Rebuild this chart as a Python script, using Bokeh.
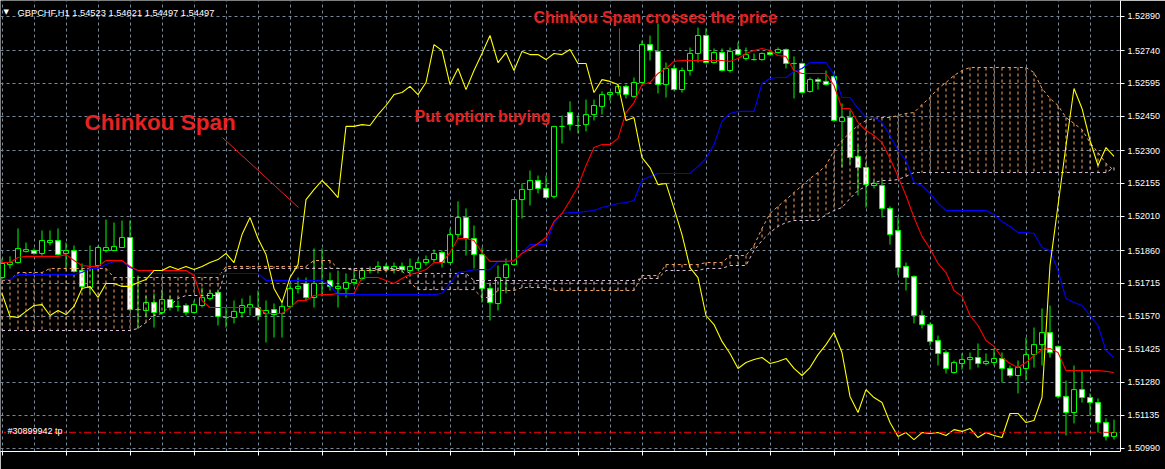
from bokeh.plotting import figure
from bokeh.models import Range1d, FixedTicker, Label, PrintfTickFormatter, ColumnDataSource
from bokeh.embed import file_html
from bokeh.resources import INLINE

# ---------------- data (GBPCHF H1, bars from 27 Aug 2014 01:00) ----------------
opens = [1.51741, 1.51798, 1.51807, 1.51856, 1.51860, 1.51847, 1.51895, 1.51904, 1.51847, 1.51860,
         1.51772, 1.51697, 1.51794, 1.51860, 1.51860, 1.51873, 1.51917, 1.51600, 1.51596, 1.51631,
         1.51587, 1.51644, 1.51614, 1.51618, 1.51587, 1.51618, 1.51649, 1.51675, 1.51565, 1.51565,
         1.51587, 1.51609, 1.51609, 1.51583, 1.51600, 1.51583, 1.51614, 1.51693, 1.51715, 1.51653,
         1.51715, 1.51728, 1.51693, 1.51693, 1.51719, 1.51737, 1.51772, 1.51776, 1.51790, 1.51776,
         1.51790, 1.51772, 1.51781, 1.51807, 1.51820, 1.51851, 1.51807, 1.51930, 1.52005, 1.51913,
         1.51842, 1.51693, 1.51627, 1.51741, 1.51798, 1.52084, 1.52128, 1.52168, 1.52133, 1.52098,
         1.52406, 1.52467, 1.52410, 1.52414, 1.52458, 1.52494, 1.52546, 1.52555, 1.52582, 1.52538,
         1.52599, 1.52766, 1.52736, 1.52590, 1.52661, 1.52568, 1.52652, 1.52727, 1.52806, 1.52687,
         1.52731, 1.52652, 1.52744, 1.52705, 1.52700, 1.52700, 1.52731, 1.52731, 1.52744, 1.52683,
         1.52683, 1.52560, 1.52612, 1.52604, 1.52626, 1.52428, 1.52445, 1.52274, 1.52225, 1.52146,
         1.52146, 1.52045, 1.51948, 1.51790, 1.51746, 1.51574, 1.51534, 1.51464, 1.51411, 1.51323,
         1.51363, 1.51380, 1.51389, 1.51363, 1.51367, 1.51385, 1.51341, 1.51310, 1.51341, 1.51402,
         1.51446, 1.51499, 1.51438, 1.51218, 1.51147, 1.51248, 1.51213, 1.51191, 1.51103, 1.51042]
highs = [1.51825, 1.51834, 1.51957, 1.51895, 1.51869, 1.51948, 1.51948, 1.51957, 1.51895, 1.51882,
         1.51803, 1.51882, 1.51882, 1.51996, 1.51983, 1.51992, 1.51992, 1.51750, 1.51662, 1.51671,
         1.51684, 1.51662, 1.51640, 1.51627, 1.51640, 1.51697, 1.51684, 1.51684, 1.51609, 1.51640,
         1.51649, 1.51662, 1.51684, 1.51640, 1.51627, 1.51640, 1.51715, 1.51741, 1.51741, 1.51869,
         1.51869, 1.51763, 1.51772, 1.51759, 1.51772, 1.51785, 1.51790, 1.51812, 1.51803, 1.51807,
         1.51807, 1.51825, 1.51825, 1.51838, 1.51864, 1.51860, 1.51957, 1.52076, 1.52045, 1.51970,
         1.51873, 1.51715, 1.51794, 1.51825, 1.52084, 1.52155, 1.52212, 1.52190, 1.52190, 1.52406,
         1.52454, 1.52516, 1.52454, 1.52524, 1.52524, 1.52560, 1.52560, 1.52590, 1.52590, 1.52621,
         1.52784, 1.52806, 1.52859, 1.52687, 1.52674, 1.52665, 1.52753, 1.52841, 1.52837, 1.52749,
         1.52749, 1.52753, 1.52775, 1.52753, 1.52727, 1.52731, 1.52744, 1.52753, 1.52749, 1.52714,
         1.52687, 1.52621, 1.52621, 1.52652, 1.52643, 1.52507, 1.52476, 1.52322, 1.52243, 1.52168,
         1.52168, 1.52054, 1.52005, 1.51807, 1.51750, 1.51596, 1.51543, 1.51486, 1.51420, 1.51376,
         1.51407, 1.51411, 1.51451, 1.51407, 1.51429, 1.51411, 1.51354, 1.51376, 1.51477, 1.51521,
         1.51605, 1.51618, 1.51442, 1.51288, 1.51354, 1.51332, 1.51231, 1.51209, 1.51121, 1.51116]
lows = [1.51728, 1.51781, 1.51803, 1.51851, 1.51842, 1.51838, 1.51882, 1.51838, 1.51781, 1.51763,
        1.51684, 1.51671, 1.51781, 1.51851, 1.51860, 1.51873, 1.51596, 1.51517, 1.51565, 1.51521,
        1.51578, 1.51596, 1.51592, 1.51574, 1.51583, 1.51609, 1.51640, 1.51530, 1.51521, 1.51539,
        1.51565, 1.51574, 1.51552, 1.51455, 1.51477, 1.51477, 1.51605, 1.51671, 1.51640, 1.51609,
        1.51658, 1.51684, 1.51609, 1.51653, 1.51706, 1.51728, 1.51759, 1.51759, 1.51763, 1.51759,
        1.51763, 1.51759, 1.51772, 1.51794, 1.51807, 1.51785, 1.51807, 1.51913, 1.51838, 1.51781,
        1.51631, 1.51552, 1.51596, 1.51671, 1.51794, 1.52001, 1.52058, 1.52111, 1.52089, 1.52089,
        1.52331, 1.52388, 1.52375, 1.52384, 1.52432, 1.52458, 1.52520, 1.52542, 1.52529, 1.52533,
        1.52595, 1.52696, 1.52551, 1.52533, 1.52564, 1.52555, 1.52630, 1.52687, 1.52683, 1.52683,
        1.52648, 1.52643, 1.52718, 1.52696, 1.52696, 1.52696, 1.52718, 1.52727, 1.52661, 1.52529,
        1.52551, 1.52555, 1.52568, 1.52586, 1.52428, 1.52225, 1.52243, 1.52102, 1.52049, 1.52133,
        1.52005, 1.51886, 1.51750, 1.51684, 1.51539, 1.51517, 1.51442, 1.51354, 1.51319, 1.51319,
        1.51336, 1.51336, 1.51345, 1.51354, 1.51354, 1.51279, 1.51301, 1.51231, 1.51288, 1.51345,
        1.51354, 1.51389, 1.51209, 1.51046, 1.51099, 1.51191, 1.51134, 1.51059, 1.51024, 1.51028]
closes = [1.51803, 1.51807, 1.51869, 1.51864, 1.51847, 1.51904, 1.51904, 1.51842, 1.51860, 1.51768,
          1.51702, 1.51781, 1.51873, 1.51873, 1.51878, 1.51917, 1.51600, 1.51600, 1.51631, 1.51587,
          1.51644, 1.51609, 1.51614, 1.51587, 1.51622, 1.51653, 1.51671, 1.51570, 1.51565, 1.51592,
          1.51618, 1.51622, 1.51574, 1.51596, 1.51578, 1.51614, 1.51693, 1.51702, 1.51653, 1.51715,
          1.51715, 1.51702, 1.51702, 1.51719, 1.51732, 1.51772, 1.51772, 1.51790, 1.51776, 1.51790,
          1.51776, 1.51790, 1.51807, 1.51820, 1.51847, 1.51807, 1.51930, 1.52005, 1.51913, 1.51842,
          1.51693, 1.51631, 1.51741, 1.51798, 1.52084, 1.52128, 1.52168, 1.52133, 1.52093, 1.52406,
          1.52406, 1.52414, 1.52410, 1.52458, 1.52498, 1.52546, 1.52555, 1.52582, 1.52546, 1.52599,
          1.52766, 1.52740, 1.52590, 1.52661, 1.52568, 1.52652, 1.52727, 1.52806, 1.52687, 1.52731,
          1.52652, 1.52736, 1.52722, 1.52722, 1.52700, 1.52727, 1.52722, 1.52744, 1.52683, 1.52683,
          1.52555, 1.52612, 1.52604, 1.52590, 1.52432, 1.52445, 1.52269, 1.52225, 1.52150, 1.52155,
          1.52045, 1.51930, 1.51785, 1.51741, 1.51574, 1.51534, 1.51460, 1.51407, 1.51341, 1.51367,
          1.51380, 1.51389, 1.51363, 1.51372, 1.51385, 1.51341, 1.51310, 1.51345, 1.51402, 1.51446,
          1.51499, 1.51411, 1.51218, 1.51147, 1.51248, 1.51213, 1.51191, 1.51103, 1.51042, 1.51059]
# closes of the 26 bars after the last visible bar (they feed the Chinkou Span)
later_closes = [1.51028, 1.51059, 1.51055, 1.51059, 1.51046, 1.51072, 1.51064, 1.51077, 1.51037, 1.51059,
                1.51046, 1.51037, 1.51143, 1.51143, 1.51103, 1.51112, 1.51213, 1.51794, 1.52058, 1.52322,
                1.52573, 1.52485, 1.52344, 1.52234, 1.52313, 1.52274]

tenkan = [1.51807, 1.51807, 1.51829, 1.51834, 1.51834, 1.51834, 1.51834, 1.51834, 1.51842, 1.51816,
          1.51794, 1.51790, 1.51790, 1.51816, 1.51816, 1.51816, 1.51790, 1.51772, 1.51772, 1.51772,
          1.51772, 1.51772, 1.51772, 1.51772, 1.51750, 1.51640, 1.51609, 1.51609, 1.51609, 1.51609,
          1.51609, 1.51609, 1.51609, 1.51583, 1.51583, 1.51583, 1.51609, 1.51640, 1.51640, 1.51662,
          1.51666, 1.51666, 1.51671, 1.51671, 1.51671, 1.51741, 1.51741, 1.51741, 1.51728, 1.51715,
          1.51737, 1.51754, 1.51763, 1.51776, 1.51807, 1.51807, 1.51851, 1.51913, 1.51913, 1.51904,
          1.51851, 1.51812, 1.51812, 1.51812, 1.51816, 1.51847, 1.51869, 1.51891, 1.51917, 1.51988,
          1.52023, 1.52080, 1.52142, 1.52234, 1.52313, 1.52326, 1.52326, 1.52353, 1.52467, 1.52511,
          1.52590, 1.52599, 1.52639, 1.52661, 1.52692, 1.52696, 1.52696, 1.52696, 1.52696, 1.52696,
          1.52696, 1.52692, 1.52705, 1.52727, 1.52740, 1.52749, 1.52740, 1.52718, 1.52714, 1.52652,
          1.52639, 1.52639, 1.52639, 1.52639, 1.52586, 1.52485, 1.52485, 1.52423, 1.52388, 1.52366,
          1.52335, 1.52265, 1.52186, 1.52102, 1.52005, 1.51922, 1.51869, 1.51803, 1.51763, 1.51684,
          1.51658, 1.51574, 1.51530, 1.51464, 1.51438, 1.51389, 1.51363, 1.51345, 1.51367, 1.51398,
          1.51424, 1.51429, 1.51411, 1.51332, 1.51332, 1.51332, 1.51332, 1.51332, 1.51328, 1.51323]
kijun = [1.51732, 1.51732, 1.51754, 1.51754, 1.51754, 1.51754, 1.51754, 1.51754, 1.51754, 1.51754,
         1.51763, 1.51781, 1.51781, 1.51798, 1.51812, 1.51812, 1.51785, 1.51772, 1.51772, 1.51759,
         1.51759, 1.51759, 1.51759, 1.51759, 1.51759, 1.51759, 1.51759, 1.51759, 1.51759, 1.51759,
         1.51759, 1.51759, 1.51759, 1.51728, 1.51728, 1.51728, 1.51728, 1.51728, 1.51728, 1.51728,
         1.51728, 1.51706, 1.51666, 1.51666, 1.51666, 1.51666, 1.51666, 1.51666, 1.51666, 1.51666,
         1.51666, 1.51666, 1.51666, 1.51666, 1.51666, 1.51671, 1.51715, 1.51763, 1.51768, 1.51776,
         1.51776, 1.51776, 1.51812, 1.51812, 1.51812, 1.51851, 1.51886, 1.51886, 1.51886, 1.51983,
         1.52023, 1.52027, 1.52027, 1.52032, 1.52036, 1.52049, 1.52058, 1.52067, 1.52071, 1.52080,
         1.52168, 1.52186, 1.52199, 1.52199, 1.52199, 1.52199, 1.52199, 1.52230, 1.52265, 1.52326,
         1.52428, 1.52463, 1.52472, 1.52472, 1.52472, 1.52595, 1.52617, 1.52621, 1.52621, 1.52648,
         1.52661, 1.52687, 1.52687, 1.52687, 1.52634, 1.52533, 1.52533, 1.52485, 1.52445, 1.52445,
         1.52423, 1.52366, 1.52300, 1.52256, 1.52159, 1.52146, 1.52111, 1.52067, 1.52036, 1.52036,
         1.52036, 1.52036, 1.52036, 1.52036, 1.52018, 1.51988, 1.51966, 1.51939, 1.51939, 1.51935,
         1.51873, 1.51860, 1.51772, 1.51649, 1.51631, 1.51618, 1.51574, 1.51530, 1.51420, 1.51389]
senkou_a = [1.51728, 1.51728, 1.51763, 1.51763, 1.51763, 1.51763, 1.51781, 1.51781, 1.51781, 1.51781,
            1.51781, 1.51781, 1.51781, 1.51781, 1.51741, 1.51741, 1.51741, 1.51741, 1.51741, 1.51741,
            1.51741, 1.51741, 1.51741, 1.51741, 1.51741, 1.51741, 1.51741, 1.51741, 1.51790, 1.51790,
            1.51790, 1.51790, 1.51790, 1.51790, 1.51790, 1.51790, 1.51790, 1.51790, 1.51790, 1.51816,
            1.51816, 1.51816, 1.51781, 1.51781, 1.51772, 1.51772, 1.51772, 1.51772, 1.51772, 1.51772,
            1.51772, 1.51719, 1.51688, 1.51688, 1.51688, 1.51688, 1.51688, 1.51688, 1.51688, 1.51688,
            1.51653, 1.51653, 1.51684, 1.51684, 1.51684, 1.51697, 1.51697, 1.51697, 1.51697, 1.51684,
            1.51684, 1.51684, 1.51684, 1.51684, 1.51684, 1.51684, 1.51684, 1.51684, 1.51684, 1.51684,
            1.51750, 1.51750, 1.51750, 1.51798, 1.51798, 1.51798, 1.51798, 1.51798, 1.51807, 1.51807,
            1.51807, 1.51838, 1.51838, 1.51838, 1.51882, 1.51957, 1.52023, 1.52054, 1.52084, 1.52115,
            1.52146, 1.52177, 1.52203, 1.52234, 1.52300, 1.52344, 1.52379, 1.52410, 1.52432, 1.52441,
            1.52445, 1.52445, 1.52454, 1.52463, 1.52467, 1.52502, 1.52533, 1.52573, 1.52599, 1.52630,
            1.52652, 1.52665, 1.52665, 1.52665, 1.52665, 1.52665, 1.52665, 1.52665, 1.52665, 1.52643,
            1.52573, 1.52529, 1.52498, 1.52445, 1.52419, 1.52392, 1.52335, 1.52291, 1.52243, 1.52212]
senkou_b = [1.51508, 1.51508, 1.51508, 1.51508, 1.51508, 1.51508, 1.51508, 1.51508, 1.51508, 1.51508,
            1.51508, 1.51508, 1.51508, 1.51508, 1.51508, 1.51508, 1.51508, 1.51517, 1.51543, 1.51574,
            1.51583, 1.51618, 1.51649, 1.51662, 1.51662, 1.51662, 1.51662, 1.51662, 1.51781, 1.51781,
            1.51781, 1.51781, 1.51781, 1.51781, 1.51781, 1.51781, 1.51781, 1.51781, 1.51781, 1.51781,
            1.51781, 1.51781, 1.51781, 1.51781, 1.51781, 1.51781, 1.51781, 1.51781, 1.51781, 1.51781,
            1.51781, 1.51759, 1.51759, 1.51759, 1.51759, 1.51759, 1.51759, 1.51759, 1.51759, 1.51728,
            1.51728, 1.51728, 1.51728, 1.51728, 1.51728, 1.51728, 1.51728, 1.51728, 1.51728, 1.51728,
            1.51728, 1.51728, 1.51728, 1.51728, 1.51728, 1.51728, 1.51728, 1.51728, 1.51728, 1.51728,
            1.51737, 1.51737, 1.51737, 1.51772, 1.51772, 1.51772, 1.51772, 1.51772, 1.51781, 1.51781,
            1.51781, 1.51794, 1.51794, 1.51794, 1.51860, 1.51904, 1.51939, 1.51966, 1.51983, 1.51992,
            1.51992, 1.51992, 1.51992, 1.52018, 1.52036, 1.52049, 1.52089, 1.52124, 1.52142, 1.52159,
            1.52168, 1.52168, 1.52172, 1.52186, 1.52203, 1.52203, 1.52203, 1.52203, 1.52203, 1.52203,
            1.52203, 1.52203, 1.52203, 1.52203, 1.52203, 1.52203, 1.52203, 1.52203, 1.52203, 1.52203,
            1.52203, 1.52203, 1.52203, 1.52203, 1.52203, 1.52203, 1.52203, 1.52203, 1.52203, 1.52225]

price_ticks = [1.52890, 1.52740, 1.52595, 1.52450, 1.52300, 1.52155, 1.52010,
               1.51860, 1.51715, 1.51570, 1.51425, 1.51280, 1.51135, 1.50990]
time_ticks = [0, 8, 16, 24, 32, 40, 48, 56, 64, 72, 80, 88, 96, 104, 112, 120, 128, 136]
time_labels = ["27 Aug 2014", "27 Aug 09:00", "27 Aug 17:00", "28 Aug 01:00", "28 Aug 09:00",
               "28 Aug 17:00", "29 Aug 01:00", "29 Aug 09:00", "29 Aug 17:00", "1 Sep 01:00",
               "1 Sep 09:00", "1 Sep 17:00", "2 Sep 01:00", "2 Sep 09:00", "2 Sep 17:00",
               "3 Sep 01:00", "3 Sep 09:00", "3 Sep 17:00"]
take_profit = 1.51060

# ---------------- figure ----------------
FONT = "Liberation Sans"
WHITE = "#FFFFFF"
LIME = "#00FF00"

p = figure(width=1165, height=469, output_backend="svg", toolbar_location=None,
           x_range=Range1d(-0.1875, 139.8125), y_range=Range1d(1.509756, 1.52960),
           y_axis_location="right", background_fill_color="black", border_fill_color="black",
           min_border_left=0, min_border_top=0, min_border_right=45, min_border_bottom=18,
           outline_line_color=None)

# axes
p.yaxis.ticker = FixedTicker(ticks=price_ticks)
p.yaxis.formatter = PrintfTickFormatter(format="%.5f")
p.xaxis.ticker = FixedTicker(ticks=time_ticks)
p.xaxis.major_label_overrides = {t: "" for t in time_ticks}
for ax in (p.xaxis[0], p.yaxis[0]):
    ax.axis_line_color = WHITE
    ax.major_tick_line_color = WHITE
    ax.major_tick_in = 0
    ax.major_tick_out = 4
    ax.minor_tick_line_color = None
    ax.major_label_text_color = WHITE
    ax.major_label_text_font = FONT
    ax.major_label_text_font_size = "9px"
    ax.major_label_standoff = 3

# grid
p.xgrid.ticker = FixedTicker(ticks=list(range(0, 141, 4)))
for g in (p.xgrid[0], p.ygrid[0]):
    g.grid_line_color = "#778899"
    g.grid_line_dash = "3 3"
    g.grid_line_width = 1

n = len(closes)
idx = list(range(n))

# candles
src = ColumnDataSource(dict(
    x=idx, high=highs, low=lows,
    top=[max(o, c) for o, c in zip(opens, closes)],
    bottom=[min(o, c) for o, c in zip(opens, closes)],
    fill=["#000000" if c >= o else "#FFFFFF" for o, c in zip(opens, closes)],
))
p.segment(x0="x", y0="high", x1="x", y1="low", source=src, line_color=LIME, line_width=1)
p.vbar(x="x", width=0.625, top="top", bottom="bottom", source=src,
       fill_color="fill", line_color=LIME, line_width=1)

# Kumo hatch (dotted verticals between the two spans)
kumo = ColumnDataSource(dict(
    x=idx, a=senkou_a, b=senkou_b,
    col=["#F4A460" if a >= b else "#D8BFD8" for a, b in zip(senkou_a, senkou_b)],
))
p.segment(x0="x", y0="a", x1="x", y1="b", source=kumo, line_color="col",
          line_width=1, line_dash="3 3")

# Ichimoku lines
chinkou = closes[26:] + later_closes
p.line(idx, senkou_a, line_color="#F4A460", line_width=1, line_dash="3 3")
p.line(idx, senkou_b, line_color="#D8BFD8", line_width=1, line_dash="3 3")
p.line(idx, kijun, line_color="#0000FF", line_width=1.1)
p.line(idx, tenkan, line_color="#FF0000", line_width=1.1)
p.line(idx, chinkou, line_color="#FFFF00", line_width=1.1)

# take-profit line
p.line([-1, n + 1], [take_profit, take_profit], line_color="#FF0000", line_width=1,
       line_dash="7 3 2 3")

# annotations (drawn pointers)
RED = "#E62222"
p.segment(x0=[27.56], y0=[1.52357], x1=[37.06], y1=[1.52049], line_color=RED, line_width=1)
p.segment(x0=[77.19], y0=[1.52837], x1=[77.19], y1=[1.52626], line_color=RED, line_width=1)

def screen_label(text, x, y, size, color=WHITE, style="normal", font=FONT, baseline="alphabetic"):
    p.add_layout(Label(x=x, y=y, x_units="screen", y_units="screen", text=text,
                       text_font=font, text_font_size=size, text_color=color,
                       text_font_style=style, text_align="left", text_baseline=baseline))

FH = 451  # frame height in px, screen y is measured from the frame bottom
screen_label("\u25BC", 3, FH - 11, "7px", font="DejaVu Sans")
screen_label("GBPCHF,H1  1.54523 1.54621 1.54497 1.54497", 17, FH - 12, "9.3px")
screen_label("Chinkou Span", 84, FH - 122, "22.5px", color=RED, style="bold")
screen_label("Put option buying", 414, FH - 116, "16px", color=RED, style="bold")
screen_label("Chinkou Span crosses the price", 533, FH - 17, "16px", color=RED, style="bold")
screen_label("#30899942 tp", 7, FH - 430, "9px")

# time axis labels (left-aligned at the tick, MT4 style)
for t, lab in zip(time_ticks, time_labels):
    p.add_layout(Label(x=t, y=-10.5, x_units="data", y_units="screen", text=lab, x_offset=1,
                       text_font=FONT, text_font_size="9px", text_color=WHITE,
                       text_align="left", text_baseline="middle"))

open("out.html", "w").write(file_html(p, INLINE))
